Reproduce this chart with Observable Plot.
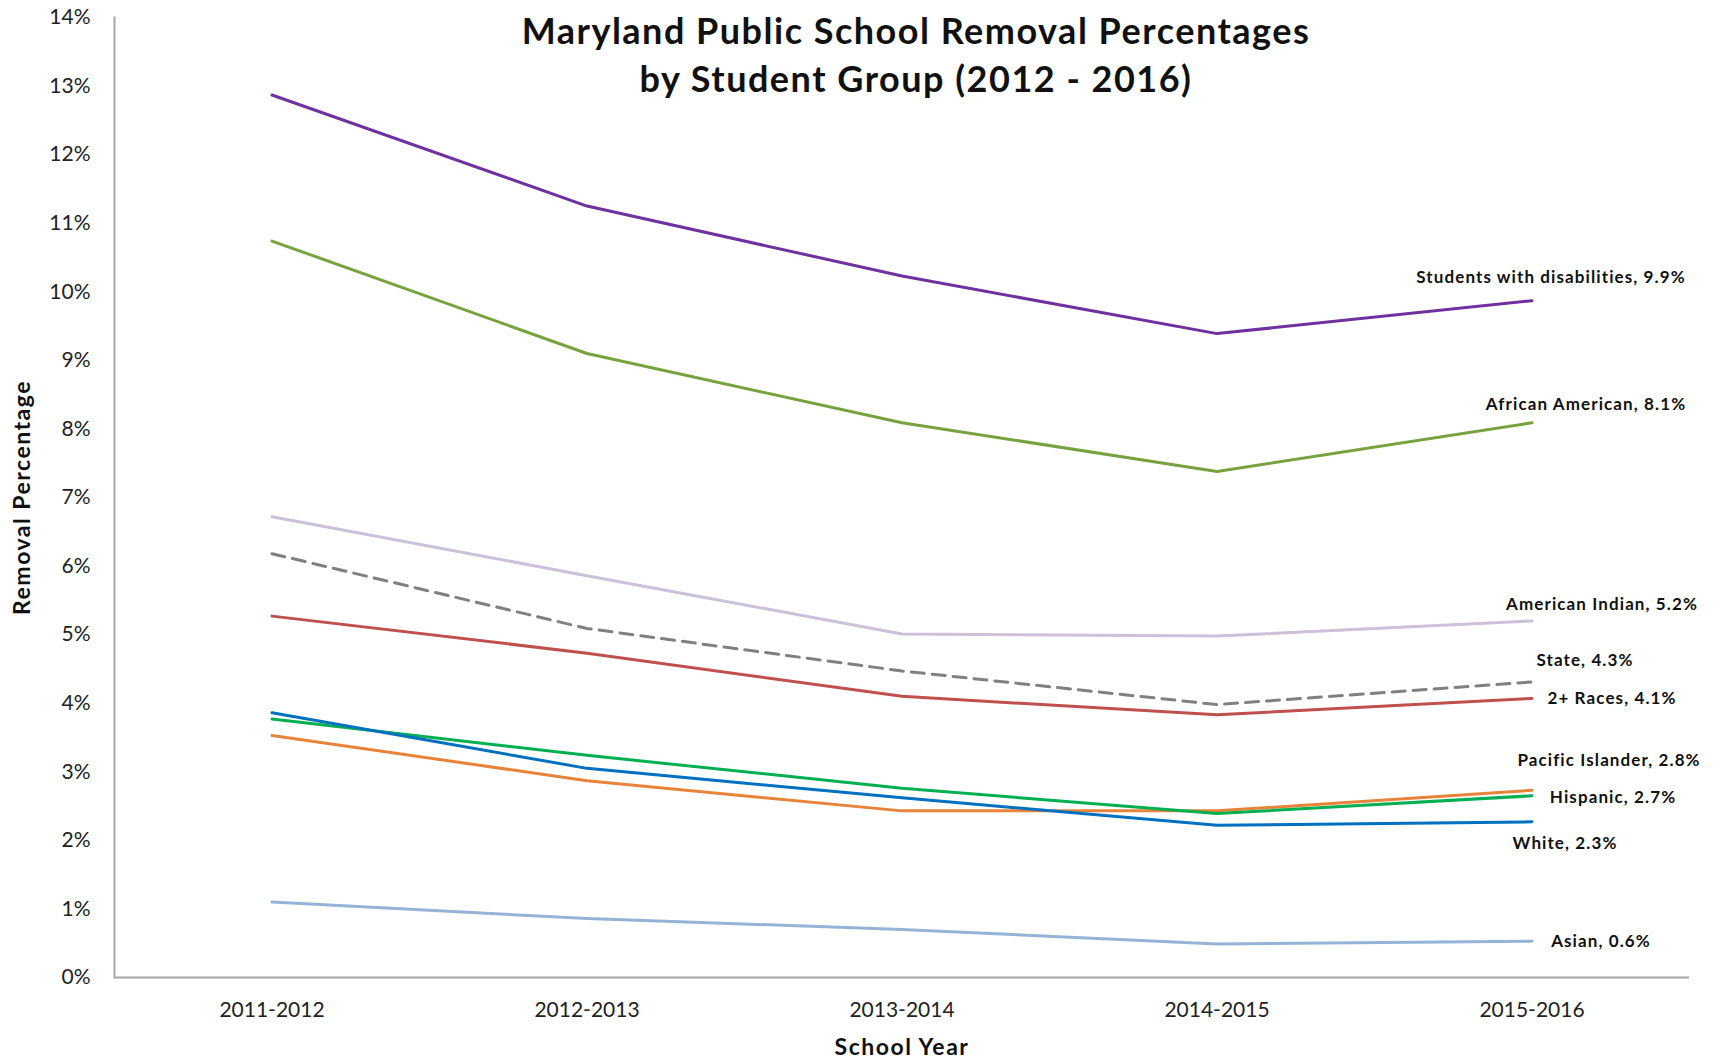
<!DOCTYPE html>
<html><head><meta charset="utf-8">
<script src="https://cdn.jsdelivr.net/npm/d3@7"></script>
<script src="https://cdn.jsdelivr.net/npm/@observablehq/plot@0.6"></script>
<style>
body{margin:0;background:#fff;}
#chart{width:1716px;height:1061px;}
#chart svg{font-family:Lato,"Open Sans",sans-serif;}
</style></head><body><div id="chart"></div>
<script>
const years = ["2011-2012","2012-2013","2013-2014","2014-2015","2015-2016"];
const groups = ["Students with disabilities","African American","American Indian","State","2+ Races","Pacific Islander","Hispanic","White","Asian"];
const studentsWithDisabilities = [12.87, 11.25, 10.23, 9.39, 9.87];
const africanAmerican = [10.74, 9.10, 8.09, 7.38, 8.09];
const americanIndian = [6.72, 5.86, 5.01, 4.98, 5.20];
const state = [6.18, 5.09, 4.47, 3.98, 4.31];
const twoPlusRaces = [5.27, 4.73, 4.10, 3.83, 4.07];
const pacificIslander = [3.53, 2.87, 2.43, 2.43, 2.73];
const hispanic = [3.77, 3.24, 2.76, 2.39, 2.65];
const white = [3.86, 3.05, 2.62, 2.22, 2.27];
const asian = [1.10, 0.86, 0.70, 0.49, 0.53];
const labelValues = ["9.9%","8.1%","5.2%","4.3%","4.1%","2.8%","2.7%","2.3%","0.6%"];
const yTicks = [0,1,2,3,4,5,6,7,8,9,10,11,12,13,14];
const titleLines = ["Maryland Public School Removal Percentages", "by Student Group (2012 - 2016)"];
const xTitle = "School Year";
const yTitle = "Removal Percentage";

const series = [studentsWithDisabilities, africanAmerican, americanIndian, state, twoPlusRaces, pacificIslander, hispanic, white, asian];
const colors = ["#7030A0","#77A33E","#CCC0DA","#808080","#C0504D","#E8843A","#00B050","#0070C0","#95B3D7"];
// label offsets (px) from each series' last point
const labelOffsets = [[19,-23],[54,-18],[70,-16],[53,-21],[80,0],[77,-30],[81,2],[33,22],[69,0]];

const rows = [];
groups.forEach((g, gi) => years.forEach((yr, yi) => rows.push({group: g, year: yr, value: series[gi][yi]})));
const solidRows = rows.filter(d => d.group !== "State");
const stateRows = rows.filter(d => d.group === "State");
const labelTexts = groups.map((g, gi) => g + ", " + labelValues[gi]);

const labelMarks = groups.map((g, gi) => Plot.text([{year: years[years.length-1], value: series[gi][years.length-1], text: labelTexts[gi]}], {
  x: "year", y: "value", text: "text", dx: labelOffsets[gi][0], dy: labelOffsets[gi][1],
  fontSize: 17, fontWeight: "bold", fill: "#111", textAnchor: "middle"
}));

const chart = Plot.plot({
  width: 1716, height: 1061,
  marginLeft: 114, marginRight: 27, marginTop: 17, marginBottom: 84,
  x: {type: "band", domain: years, padding: 0, label: null},
  y: {domain: [0, 14], label: null},
  color: {domain: groups, range: colors},
  marks: [
    Plot.axisY({ticks: yTicks, tickFormat: d => d + "%", tickSize: 0, tickPadding: 24, fontSize: 21, label: null, fill: "#222"}),
    Plot.axisX({tickSize: 0, tickPadding: 25, fontSize: 21, label: null, fill: "#222"}),
    Plot.frame({anchor: "left", stroke: "#a6a6a6", strokeWidth: 2}),
    Plot.ruleY([0], {stroke: "#a6a6a6", strokeWidth: 2}),
    Plot.line(solidRows, {x: "year", y: "value", z: "group", stroke: "group", strokeWidth: 3}),
    Plot.line(stateRows, {x: "year", y: "value", z: "group", stroke: "group", strokeWidth: 3, strokeDasharray: "13,8"}),
    ...labelMarks,
    Plot.text([titleLines[0]], {frameAnchor: "top", dx: 14, dy: 15, lineAnchor: "middle", fontSize: 36, fontWeight: "bold", fill: "#111"}),
    Plot.text([titleLines[1]], {frameAnchor: "top", dx: 14, dy: 63, lineAnchor: "middle", fontSize: 36, fontWeight: "bold", fill: "#111"}),
    Plot.text([xTitle], {frameAnchor: "bottom", dy: 70, lineAnchor: "middle", fontSize: 23, fontWeight: "bold", fill: "#111"}),
    Plot.text([yTitle], {frameAnchor: "left", dx: -92, rotate: -90, textAnchor: "middle", lineAnchor: "middle", fontSize: 23, fontWeight: "bold", fill: "#111"})
  ]
});
document.getElementById("chart").appendChild(chart);

// letter spacing to match the wide bold lettering of the original
const spacing = new Map();
titleLines.forEach(t => spacing.set(t, "1.5px"));
labelTexts.forEach(t => spacing.set(t, "1.1px"));
spacing.set(xTitle, "1.5px");
spacing.set(yTitle, "1.5px");
d3.select(chart).selectAll("text").each(function() {
  const s = spacing.get(this.textContent);
  if (s) this.style.letterSpacing = s;
});
</script>
</body></html>
